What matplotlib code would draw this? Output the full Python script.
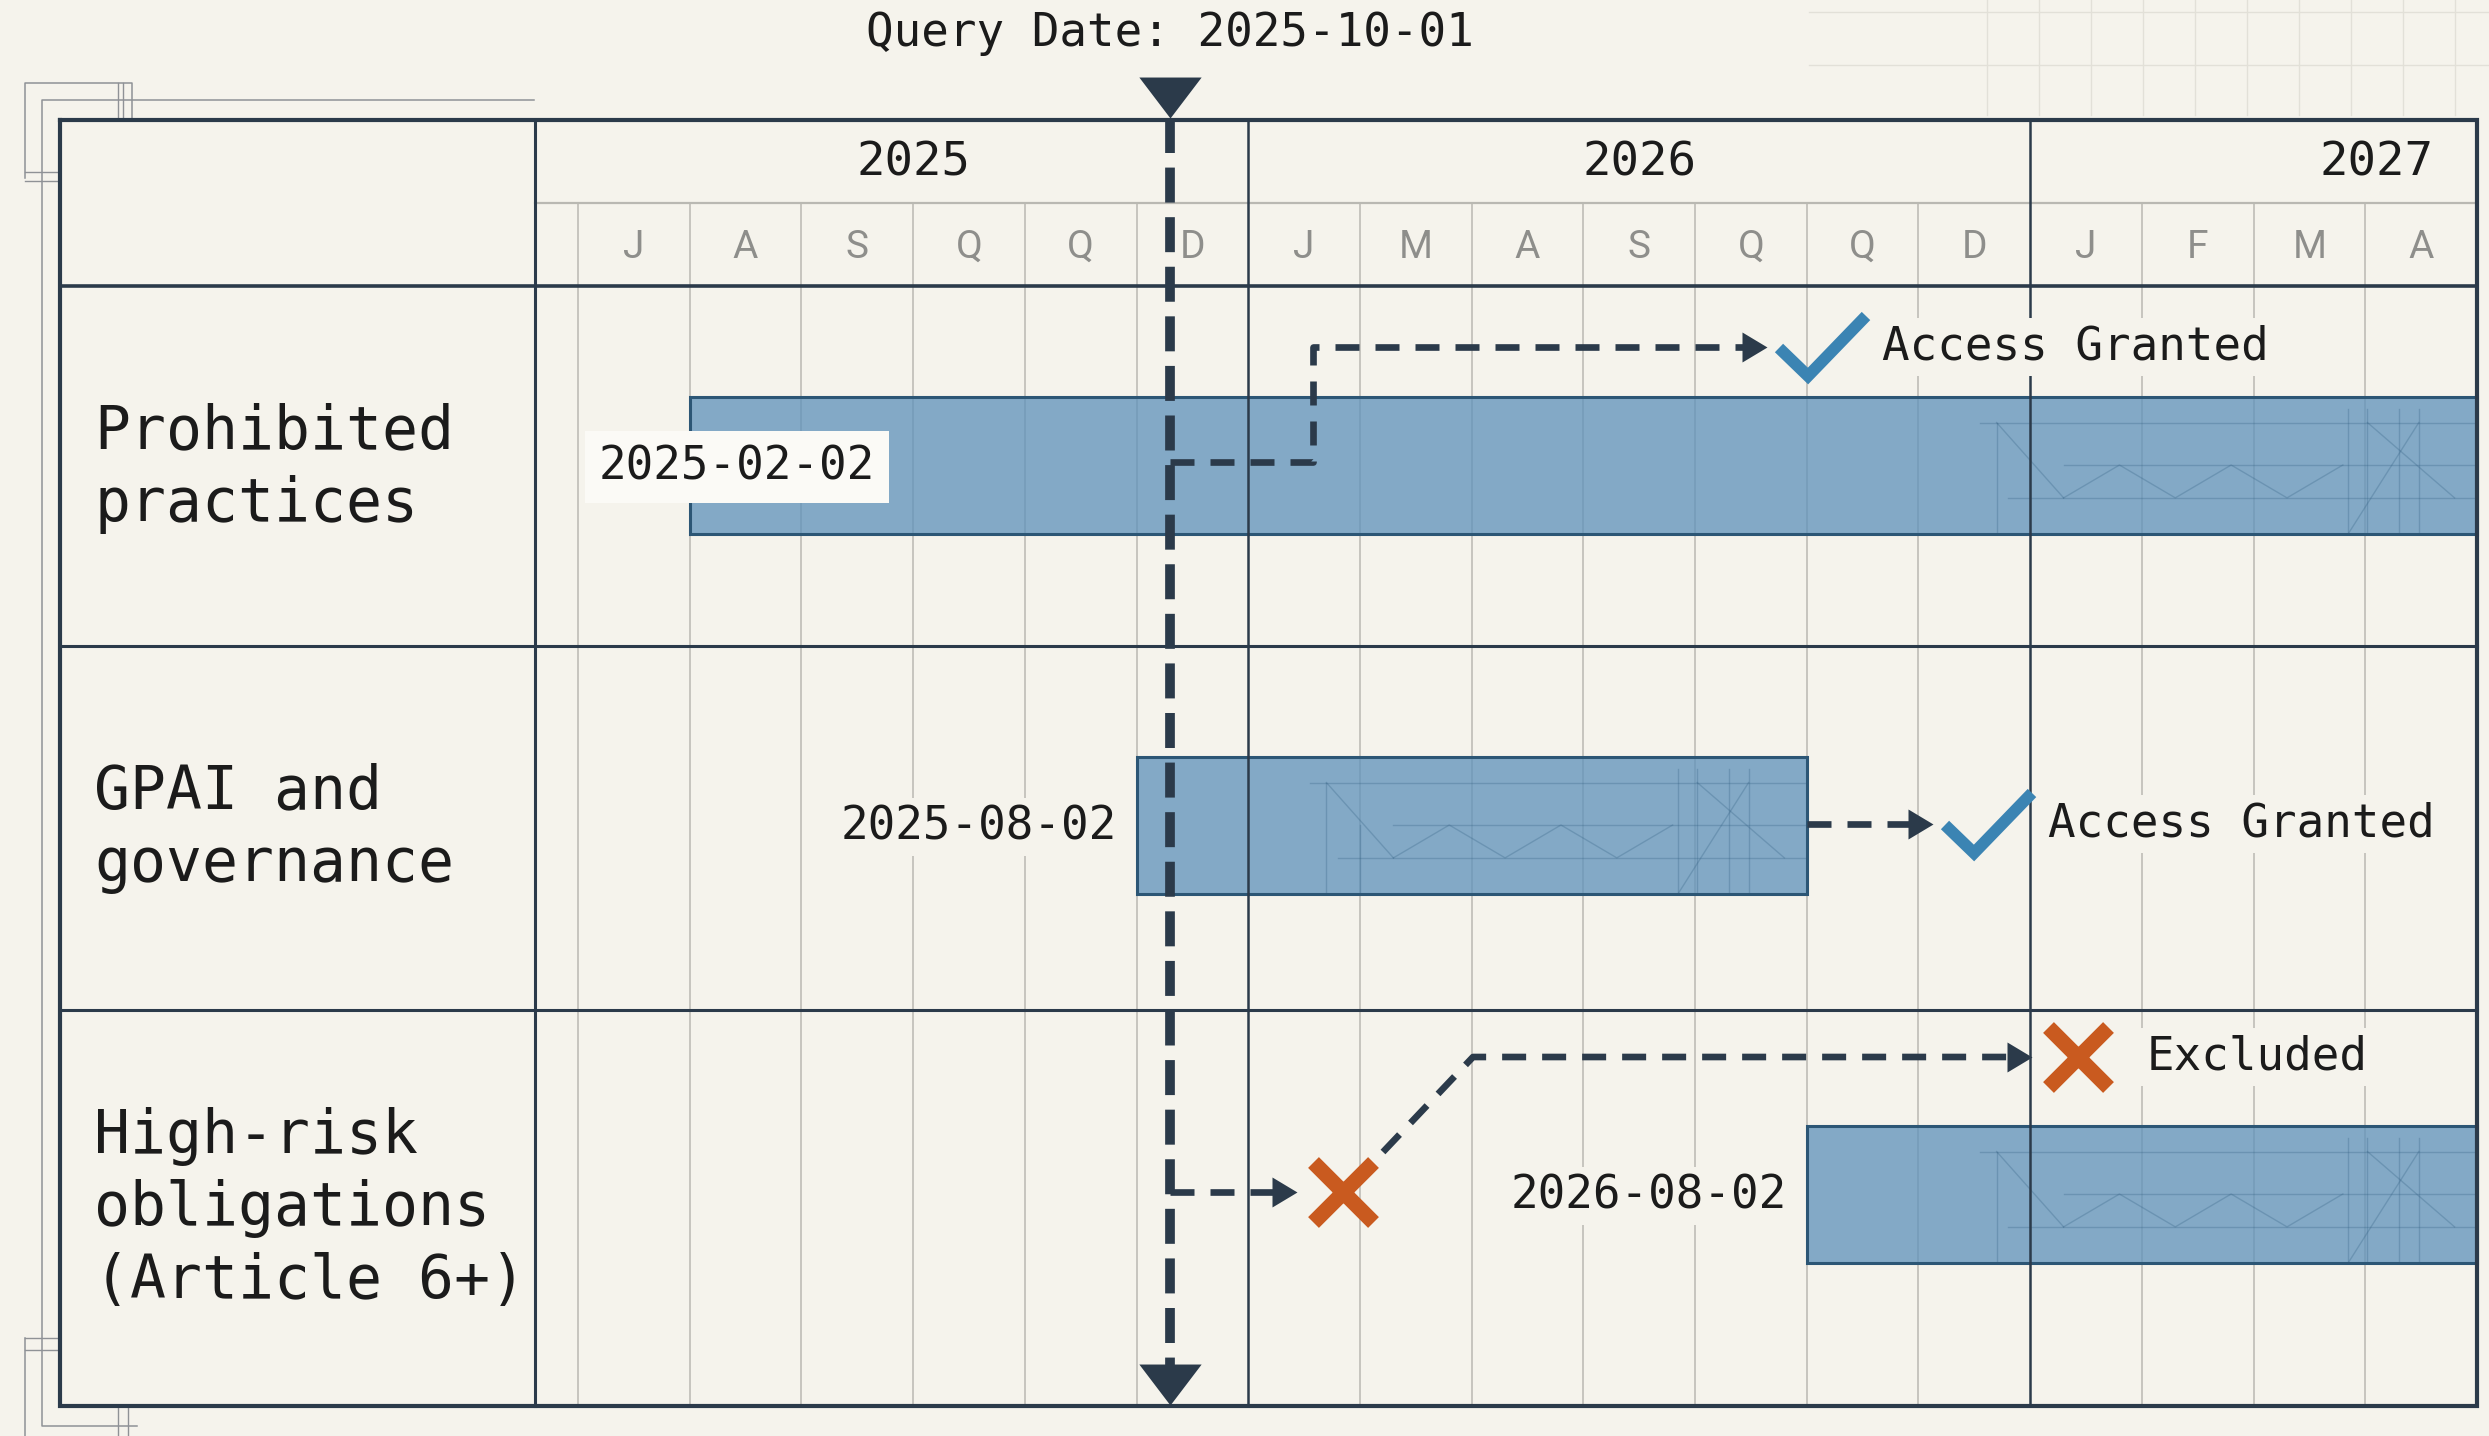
import matplotlib
matplotlib.use("Agg")
import matplotlib.pyplot as plt

# ---------------- data ----------------
phases = ["Prohibited\npractices", "GPAI and\ngovernance", "High-risk\nobligations\n(Article 6+)"]
start_dates = ["2025-02-02", "2025-08-02", "2026-08-02"]
bar_start = [1.0, 5.0, 11.0]          # position on the chart's month-column grid
bar_end = [17.0, 11.0, 17.0]
outcomes = ["Access Granted", "Access Granted", "Excluded"]
granted = [True, True, False]
query_label = "Query Date: 2025-10-01"
query_x = 5.3
years = ["2025", "2026", "2027"]
year_bounds = [-0.385, 6.0, 13.0, 17.0]
year_label_x = [3.0, 9.5, 16.1]
month_labels = ["J", "A", "S", "Q", "Q", "D", "J", "M", "A", "S", "Q", "Q", "D", "J", "F", "M", "A"]

# ---------------- style / layout ----------------
W, H = 2489, 1436
BG = "#f5f3ec"
DARK = "#2b3a4a"
TXT = "#1b1b1b"
GRID = "#b9b8b2"
BAR_FC = "#5f92bb"
BAR_EC = "#2c5675"
CHECK = "#3b84b3"
CROSS = "#c95a1f"
MONO = "DejaVu Sans Mono"

X0, COL = 578.0, 111.7


def px(x):
    return (x - X0) / COL


def dx(d):
    return d / COL


fig = plt.figure(figsize=(W / 100, H / 100), dpi=100, facecolor=BG)
ax = fig.add_axes([0, 0, 1, 1])
ax.set_facecolor(BG)
ax.set_xlim(px(0), px(W))
ax.set_ylim(H, 0)
ax.axis("off")

T_LEFT, T_LABEL, T_RIGHT = px(60), year_bounds[0], year_bounds[-1]
Y_TOP, Y_MON, Y_HDR = 120, 203, 286
row_edges = [286, 646, 1010, 1406]
bar_center = [465, 825, 1194]
bar_h = 137
label_center = [468, 828, 1209]

# ---------------- faint decorations ----------------
faint = "#e2e0d8"
for i in range(10):
    xx = px(1987 + i * 52)
    ax.plot([xx, xx], [0, 115], color=faint, lw=1.0, zorder=0)
for yy in (12, 65):
    ax.plot([px(1809), px(W)], [yy, yy], color=faint, lw=1.0, zorder=0)

brk = "#8f9296"
ax.plot([px(25), px(25), px(132), px(132)], [178, 83, 83, 118], color=brk, lw=1.1, zorder=0)
ax.plot([px(118), px(118)], [83, 118], color=brk, lw=1.0, zorder=0)
ax.plot([px(123), px(123)], [83, 118], color=brk, lw=1.0, zorder=0)
ax.plot([px(534), px(42), px(42), px(137)], [100, 100, 1426, 1426], color=brk, lw=1.1, zorder=0)
ax.plot([px(25), px(60)], [172, 172], color=brk, lw=1.0, zorder=0)
ax.plot([px(25), px(60)], [181, 181], color=brk, lw=1.0, zorder=0)
ax.plot([px(25), px(25)], [1338, H], color=brk, lw=1.1, zorder=0)
ax.plot([px(25), px(60)], [1338, 1338], color=brk, lw=1.0, zorder=0)
ax.plot([px(25), px(60)], [1350, 1350], color=brk, lw=1.0, zorder=0)
ax.plot([px(118), px(118)], [1408, H], color=brk, lw=1.0, zorder=0)
ax.plot([px(128), px(128)], [1408, H], color=brk, lw=1.0, zorder=0)

# ---------------- grid ----------------
for i in range(len(month_labels)):
    if i in (6, 13):
        continue
    ax.plot([i, i], [Y_MON, row_edges[-1]], color=GRID, lw=1.1, zorder=1)
ax.plot([T_LABEL, T_RIGHT], [Y_MON, Y_MON], color=GRID, lw=1.6, zorder=1)
for b in year_bounds[1:-1]:
    ax.plot([b, b], [Y_TOP, row_edges[-1]], color=DARK, lw=1.8, zorder=3)
ax.plot([T_LABEL, T_LABEL], [Y_TOP, row_edges[-1]], color=DARK, lw=2.2, zorder=3)
for yy in row_edges[1:-1]:
    ax.plot([T_LEFT, T_RIGHT], [yy, yy], color=DARK, lw=2.2, zorder=3)
ax.plot([T_LEFT, T_RIGHT], [Y_HDR, Y_HDR], color=DARK, lw=2.6, zorder=3)
ax.plot([T_LEFT, T_RIGHT, T_RIGHT, T_LEFT, T_LEFT],
        [Y_TOP, Y_TOP, row_edges[-1], row_edges[-1], Y_TOP],
        color=DARK, lw=3.0, zorder=3, solid_joinstyle="miter")

# header text
for lab, xx in zip(years, year_label_x):
    ax.text(xx, 163, lab, ha="center", va="center", fontsize=34, family=MONO, color=TXT, zorder=6)
for i, m in enumerate(month_labels):
    ax.text(i + 0.5, 247, m, ha="center", va="center", fontsize=28, family="Roboto",
            color="#8e8e8b", zorder=6)

# row labels
for lab, yy in zip(phases, label_center):
    ax.text(px(94), yy, lab, ha="left", va="center", fontsize=43, family=MONO,
            color=TXT, linespacing=1.30, zorder=6)

# ---------------- bars ----------------
for s, e, yc in zip(bar_start, bar_end, bar_center):
    ax.barh(yc, e - s, left=s, height=bar_h, color=BAR_FC, alpha=0.76,
            edgecolor="none", zorder=2)
    ax.barh(yc, e - s, left=s, height=bar_h, facecolor="none",
            edgecolor=BAR_EC, lw=2.2, zorder=2.6)
    # faint blueprint truss inside bar
    t0 = max(s + 0.9, e - 4.3)
    tc = dict(color="#2f5d80", alpha=0.28, lw=1.0, zorder=2.4)
    ytop, ymid, ylow, ybot = yc - 0.31 * bar_h, yc, yc + 0.24 * bar_h, yc + 0.5 * bar_h
    ax.plot([t0 - 0.15, e], [ytop, ytop], **tc)
    ax.plot([t0 + 0.6, e], [ymid, ymid], **tc)
    ax.plot([t0 + 0.1, e], [ylow, ylow], **tc)
    ax.plot([t0, t0 + 0.6], [ytop, ylow], **tc)
    ax.plot([t0, t0], [ytop, ybot], **tc)
    ax.plot([t0 + 0.3, t0 + 0.3], [ymid, ybot], **tc)
    zx, zy, k = [], [], 0
    xx = t0 + 0.6
    while xx <= e - 1.0:
        zx.append(xx)
        zy.append(ylow if k % 2 == 0 else ymid)
        xx += 0.5
        k += 1
    ax.plot(zx, zy, **tc)
    for off in (1.15, 0.98, 0.7, 0.52):
        ax.plot([e - off, e - off], [ytop - 0.1 * bar_h, ybot], **tc)
    ax.plot([e - 1.15, e - 0.52], [ybot, ytop], **tc)
    ax.plot([e - 0.98, e - 0.2], [ytop, ylow], **tc)

# start date labels
lab_kw = dict(fontsize=33, family=MONO, color=TXT, va="center", zorder=6)
ax.text(px(599), bar_center[0] + 2, start_dates[0], ha="left",
        bbox=dict(boxstyle="square,pad=0.3", fc="#fbfaf6", ec="none"), **lab_kw)
for i in (1, 2):
    ax.text(bar_start[i] - dx(20), bar_center[i] + 2, start_dates[i], ha="right",
            bbox=dict(boxstyle="square,pad=0.15", fc=BG, ec="none"), **lab_kw)

# ---------------- query line ----------------
tri_down = [(0, 0), (-0.76, 1), (0.76, 1), (0, 0)]
ax.plot([query_x, query_x], [118, 1366], color=DARK, lw=7, zorder=5,
        linestyle=(0, (3.6, 1.5)), solid_capstyle="butt", dash_capstyle="butt")
ax.plot([query_x], [118], marker=tri_down, ms=59, color=DARK, mec="none", zorder=5)
ax.plot([query_x], [1405], marker=tri_down, ms=59, color=DARK, mec="none", zorder=5)
ax.text(query_x, 33, query_label, ha="center", va="center", fontsize=33, family=MONO,
        color=TXT, zorder=6)

# ---------------- decision paths ----------------
path_kw = dict(color=DARK, lw=4.8, linestyle=(0, (3.6, 2.4)), dash_capstyle="butt", zorder=4)
arrow_m = [(0, 0), (-1, 0.6), (-1, -0.6), (0, 0)]


def arrow(xs, ys):
    xs = list(xs)
    ys = list(ys)
    xs_line = xs[:-1] + [xs[-1] - dx(18)]
    ax.plot(xs_line, ys, **path_kw)
    ax.plot([xs[-1]], [ys[-1]], marker=arrow_m, ms=36, color=DARK, mec="none", zorder=4)


def status(tip_x, yy, ok, text):
    if ok:
        cx = tip_x + dx(12)
        ax.plot([cx, cx + dx(29), cx + dx(87)], [yy + 1, yy + 29, yy - 31],
                color=CHECK, lw=8.5, solid_joinstyle="miter", solid_capstyle="butt", zorder=6)
    else:
        ax.plot([tip_x + dx(46)], [yy], marker="x", ms=43, mew=11, color=CROSS, zorder=6)
    if text:
        ax.text(tip_x + dx(115), yy, text, ha="left", va="center", fontsize=33, family=MONO,
                color=TXT, bbox=dict(boxstyle="square,pad=0.15", fc=BG, ec="none"), zorder=6)


# row 1: prohibited practices -> granted
tip1 = px(1767)
arrow([query_x, px(1313), px(1313), tip1], [462, 462, 347, 347])
status(tip1, 347, granted[0], outcomes[0])

# row 2: GPAI -> granted
tip2 = px(1933)
arrow([bar_end[1], tip2], [824, 824])
status(tip2, 824, granted[1], outcomes[1])

# row 3: high-risk -> excluded (not yet in force), then excluded at the rule
tip3a = px(1297)
arrow([query_x, tip3a], [1192, 1192])
status(tip3a, 1192, False, "")
tip3b = px(2032)
arrow([px(1383), px(1473), tip3b], [1152, 1057, 1057])
status(tip3b, 1057, granted[2], outcomes[2])

fig.savefig("out.png", dpi=100, facecolor=BG)
